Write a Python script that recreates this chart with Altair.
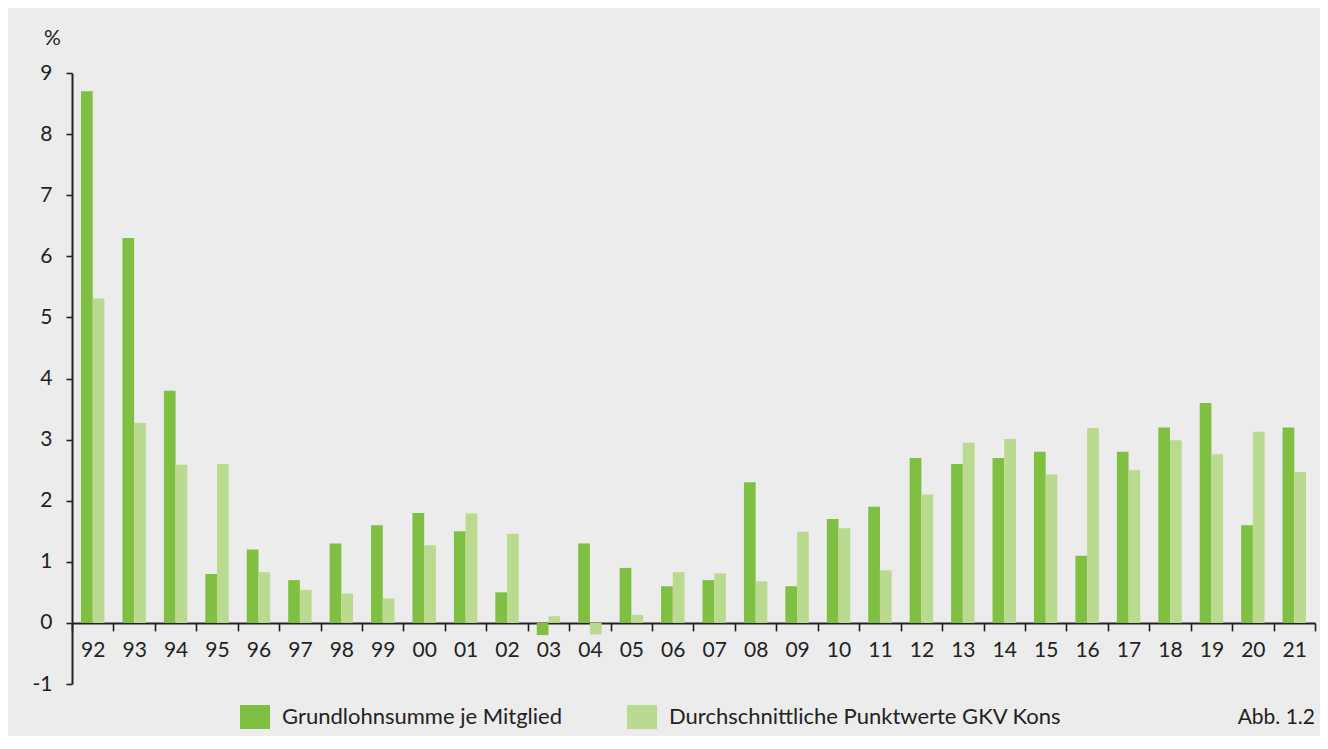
import altair as alt
import pandas as pd

years = ["92", "93", "94", "95", "96", "97", "98", "99", "00", "01",
         "02", "03", "04", "05", "06", "07", "08", "09", "10", "11",
         "12", "13", "14", "15", "16", "17", "18", "19", "20", "21"]
grundlohn = [8.7, 6.3, 3.8, 0.8, 1.2, 0.7, 1.3, 1.6, 1.8, 1.5,
             0.5, -0.2, 1.3, 0.9, 0.6, 0.7, 2.3, 0.6, 1.7, 1.9,
             2.7, 2.6, 2.7, 2.8, 1.1, 2.8, 3.2, 3.6, 1.6, 3.2]
punktwerte = [5.31, 3.27, 2.59, 2.60, 0.83, 0.54, 0.48, 0.40, 1.27, 1.79,
              1.46, 0.11, -0.19, 0.13, 0.83, 0.81, 0.68, 1.49, 1.55, 0.86,
              2.10, 2.95, 3.01, 2.43, 3.19, 2.50, 2.99, 2.76, 3.13, 2.47]
series = ["Grundlohnsumme je Mitglied", "Durchschnittliche Punktwerte GKV Kons"]
colors = ["#7fbf42", "#b9da8f"]
y_ticks = [-1, 0, 1, 2, 3, 4, 5, 6, 7, 8, 9]
note = ["Abb. 1.2"]

rows = []
for i, yr in enumerate(years):
    rows.append({"Jahr": yr, "Reihe": series[0], "Wert": grundlohn[i]})
    rows.append({"Jahr": yr, "Reihe": series[1], "Wert": punktwerte[i]})
df = pd.DataFrame(rows)

FONT = "Lato"
W, H = 1243, 611

bars = alt.Chart(df).mark_bar().encode(
    x=alt.X("Jahr:N", sort=years,
            scale=alt.Scale(paddingInner=0, paddingOuter=0),
            axis=alt.Axis(title=None, orient="bottom", offset=-61.1,
                          tickBand="extent", labelAngle=0,
                          labelFontSize=21, labelFont=FONT, labelColor="#222222",
                          labelPadding=9, tickSize=8, tickWidth=1.6, tickColor="#222222",
                          domainColor="#222222", domainWidth=2)),
    xOffset=alt.XOffset("Reihe:N", sort=series,
                        scale=alt.Scale(paddingInner=0, paddingOuter=0.77)),
    y=alt.Y("Wert:Q", scale=alt.Scale(domain=[-1, 9], nice=False),
            axis=alt.Axis(values=y_ticks, title="%", titleAngle=0, titleX=-20, titleY=-35,
                          titleAlign="center", titleBaseline="middle",
                          titleFontSize=21, titleFont=FONT, titleFontWeight="normal",
                          titleColor="#222222",
                          labelExpr="'' + datum.value",
                          labelFontSize=21, labelFont=FONT, labelColor="#222222",
                          labelPadding=14, tickSize=6, tickWidth=1.6, tickColor="#222222",
                          domainColor="#222222", domainWidth=2, grid=False)),
    color=alt.Color("Reihe:N", sort=series,
                    scale=alt.Scale(domain=series, range=colors),
                    legend=alt.Legend(title=None, orient="none", legendX=168, legendY=629,
                                      direction="horizontal",
                                      symbolType="M-1,-0.8H1V0.8H-1Z", symbolSize=900,
                                      symbolStrokeWidth=0, symbolOpacity=1,
                                      labelFontSize=22, labelFont=FONT, labelColor="#222222",
                                      labelOffset=12, columnPadding=64, labelLimit=600,
                                      padding=0)),
)

label = alt.Chart(pd.DataFrame({"t": note})).mark_text(
    align="right", baseline="middle", fontSize=21, font=FONT, color="#222222"
).encode(x=alt.value(W), y=alt.value(645), text="t:N")

chart = alt.layer(bars, label).properties(
    width=W, height=H,
    background="#ececec",
    padding={"left": 64, "top": 65, "right": 5, "bottom": 52},
    autosize=alt.AutoSizeParams(type="none"),
).configure_view(stroke=None)

chart.save("out.html", embed_options={"renderer": "svg", "actions": False})
